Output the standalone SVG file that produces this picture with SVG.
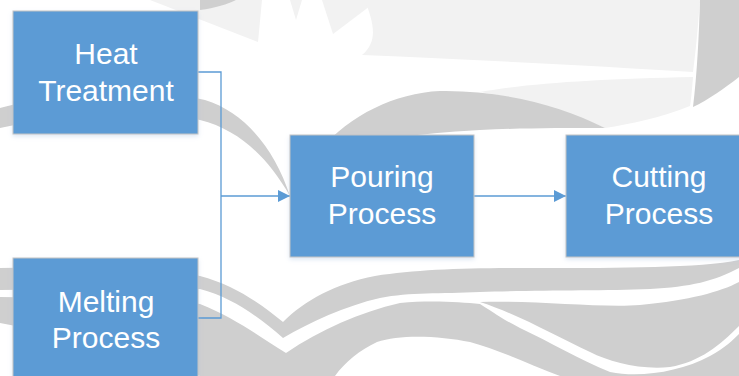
<svg xmlns="http://www.w3.org/2000/svg" width="739" height="376" viewBox="0 0 739 376">
  <style>
    .wm-dark { fill: #cfcfcf; }
    .wm-light { fill: #f2f2f2; }
    .box { fill: #5b9bd5; stroke: #c4c4c4; stroke-width: 1; filter: url(#shadow); }
    .label { font-family: "Liberation Sans", Arial, sans-serif; font-size: 30px; fill: #ffffff; text-anchor: middle; }
    .wire { fill: none; stroke: #5b9bd5; stroke-width: 1.3; }
  </style>
  <defs>
    <filter id="shadow" x="-10%" y="-10%" width="120%" height="130%">
      <feDropShadow dx="0" dy="2" stdDeviation="2" flood-color="#9dbbe0" flood-opacity="0.35"/>
    </filter>
    <marker id="arrow" markerWidth="12" markerHeight="12" refX="12" refY="6" orient="auto" markerUnits="userSpaceOnUse">
      <path d="M0,0 L12,6 L0,12 Z" fill="#5b9bd5"/>
    </marker>
  </defs>

  <rect width="739" height="376" fill="#ffffff"/>

  <!-- background emblem -->
  <g id="emblem">
    <!-- sun rays and upper sky panel -->
    <path class="wm-light" d="M150,0 L262,0 L258,42 Z"/>
    <path class="wm-light" d="M290,0 L302,0 L296,20 Z"/>
    <path class="wm-light" d="M322,0 L378,0 L333,34 Z"/>
    <path class="wm-light" d="M365,0 L700,0 C698,25 696,50 693,72 C600,66 480,60 362,55 C380,40 372,20 365,0 Z"/>
    <path class="wm-light" d="M480,92 C530,83 600,79 693,77 C692,90 691,100 690,106 C660,118 630,124 605,128 C560,108 520,98 480,92 Z"/>
    <!-- right crescent -->
    <path class="wm-dark" d="M700,0 L739,0 L739,77 C725,88 708,100 693,107 C697,75 699,35 700,0 Z"/>
    <!-- upper arc over the middle -->
    <path class="wm-dark" d="M320,150 C350,115 395,93 440,91 C500,90 560,105 605,128 C560,128 520,128 480,130 C440,132 380,138 320,150 Z"/>
    <!-- left sweeping arc -->
    <path class="wm-dark" d="M0,108 C60,92 150,88 205,100 C245,112 275,150 290,196 C268,158 240,130 200,120 C140,108 60,115 0,128 Z"/>
    <path class="wm-dark" d="M200,0 L236,0 C228,4 215,8 200,10 Z"/>
    <!-- lower waves -->
    <path class="wm-dark" d="M0,268 C90,266 160,268 200,276 C235,285 262,305 283,322 C305,300 335,284 375,276 C420,269 470,268 540,268 C620,268 700,268 739,260 L739,268 C715,281 690,287 650,289 C600,291 530,290 480,292 C440,294 410,292 380,298 C345,306 310,322 283,338 C260,318 232,297 200,289 C150,287 80,289 0,290 Z"/>
    <path class="wm-dark" d="M0,297 C90,298 160,299 200,304 C235,318 262,338 286,353 C320,330 360,312 400,303 C430,300 460,302 480,304 C490,310 500,318 520,328 C550,342 580,360 610,372 C640,378 680,372 710,356 C725,348 733,340 739,334 L739,376 L560,376 C530,365 500,350 470,342 C440,336 400,334 377,342 C360,350 345,362 335,376 L200,376 C140,356 70,336 0,323 Z"/>
    <path class="wm-dark" d="M480,302 C530,300 600,308 640,305 C690,300 720,292 739,282 L739,326 C720,345 700,362 670,367 C640,370 610,362 590,352 C555,336 520,315 480,302 Z"/>
  </g>

  <!-- connectors -->
  <g id="connectors">
    <path class="wire" d="M198,72 H221 V318 H198"/>
    <path class="wire" d="M221,196 H290" marker-end="url(#arrow)"/>
    <path class="wire" d="M474,196 H566" marker-end="url(#arrow)"/>
  </g>

  <g id="heat-treatment">
    <rect class="box" x="13" y="11" width="185" height="123"/>
    <text class="label" x="106" y="64">Heat</text>
    <text class="label" x="106" y="101">Treatment</text>
  </g>

  <g id="melting-process">
    <rect class="box" x="13" y="258" width="185" height="123"/>
    <text class="label" x="106" y="311.5">Melting</text>
    <text class="label" x="106" y="348">Process</text>
  </g>

  <g id="pouring-process">
    <rect class="box" x="290" y="135" width="184" height="122"/>
    <text class="label" x="382" y="187">Pouring</text>
    <text class="label" x="382" y="224">Process</text>
  </g>

  <g id="cutting-process">
    <rect class="box" x="566" y="135" width="186" height="122"/>
    <text class="label" x="659" y="187">Cutting</text>
    <text class="label" x="659" y="224">Process</text>
  </g>
</svg>
